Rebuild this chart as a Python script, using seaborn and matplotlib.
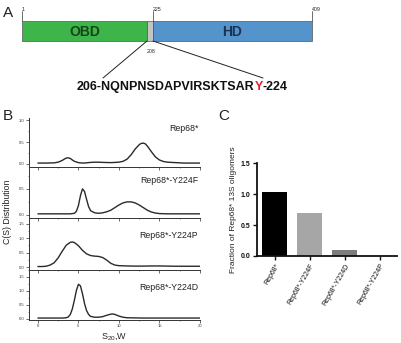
import numpy as np
import pandas as pd
import matplotlib
matplotlib.use("Agg")
import matplotlib.pyplot as plt
import seaborn as sns
from matplotlib.patches import Rectangle
from matplotlib.ticker import MultipleLocator

# ---------------- Panel A data ----------------
domain_names = ["OBD", "", "HD"]
domain_start = [1, 208, 225]
domain_end = [208, 225, 409]
domain_colors = ["#3db54a", "#c4c4c4", "#5593cc"]
domain_text_colors = ["#17441a", "#000000", "#1b3352"]
residue_marks_top = [1, 225, 409]
residue_marks_bottom = [208]
seq_prefix = "206-NQNPNSDAPVIRSKTSAR"
seq_mut = "Y"
seq_suffix = "-224"

# ---------------- Panel B data (c(s) distributions) ----------------
s_rep68 = [0, 1, 2, 2.5, 3, 3.25, 3.5, 3.75, 4, 4.25, 4.5, 5, 5.5, 6, 6.5, 7, 7.5, 8, 9,
           10, 10.5, 11, 11.5, 12, 12.5, 12.75, 13, 13.25, 13.5, 14, 14.5, 15, 15.5, 16,
           17, 18, 20]
c_rep68 = [0.02, 0.02, 0.025, 0.04, 0.08, 0.11, 0.135, 0.14, 0.125, 0.09, 0.06, 0.03,
           0.02, 0.025, 0.035, 0.04, 0.04, 0.035, 0.03, 0.04, 0.06, 0.11, 0.21, 0.34,
           0.44, 0.47, 0.475, 0.46, 0.41, 0.28, 0.16, 0.09, 0.055, 0.04, 0.03, 0.02, 0.02]

s_y224f = [0, 1, 2, 3, 4, 4.5, 4.75, 5, 5.25, 5.5, 5.75, 6, 6.25, 6.5, 7, 7.5, 8, 8.5, 9,
           9.5, 10, 10.5, 11, 11.5, 12, 12.5, 13, 13.5, 14, 14.5, 15, 16, 18, 20]
c_y224f = [0.02, 0.02, 0.02, 0.02, 0.02, 0.03, 0.07, 0.18, 0.37, 0.5, 0.45, 0.3, 0.16,
           0.08, 0.04, 0.03, 0.04, 0.06, 0.09, 0.14, 0.19, 0.23, 0.25, 0.25, 0.23, 0.19,
           0.14, 0.09, 0.055, 0.035, 0.025, 0.02, 0.02, 0.02]

s_y224p = [0, 0.5, 1, 1.5, 2, 2.5, 3, 3.5, 4, 4.25, 4.5, 5, 5.5, 6, 6.5, 7, 7.5, 8, 8.5,
           9, 9.5, 10, 11, 12, 13, 14, 15, 16, 17, 18, 19, 20]
c_y224p = [0.02, 0.02, 0.03, 0.07, 0.15, 0.32, 0.55, 0.76, 0.86, 0.87, 0.85, 0.74, 0.58,
           0.46, 0.40, 0.38, 0.37, 0.33, 0.24, 0.13, 0.07, 0.05, 0.04, 0.035, 0.035, 0.04,
           0.04, 0.035, 0.03, 0.03, 0.03, 0.03]

s_y224d = [0, 1, 2, 3, 3.5, 3.75, 4, 4.25, 4.5, 4.75, 5, 5.25, 5.5, 5.75, 6, 6.25, 6.5,
           7, 7.5, 8, 8.5, 9, 9.25, 9.5, 10, 10.5, 11, 12, 13, 15, 17, 20]
c_y224d = [0.03, 0.03, 0.03, 0.03, 0.04, 0.07, 0.16, 0.36, 0.67, 1.02, 1.24, 1.18, 0.9,
           0.55, 0.3, 0.16, 0.09, 0.06, 0.06, 0.08, 0.13, 0.17, 0.175, 0.16, 0.1, 0.06,
           0.04, 0.035, 0.03, 0.03, 0.03, 0.03]

b_labels = ["Rep68*", "Rep68*-Y224F", "Rep68*-Y224P", "Rep68*-Y224D"]
b_yticks = [[0.0, 0.5, 1.0], [0.0, 0.5], [0.0, 0.5, 1.0, 1.5], [0.0, 0.5, 1.0, 1.5]]
b_ylims = [(-0.07, 1.05), (-0.06, 0.92), (-0.1, 1.7), (-0.04, 1.75)]

# ---------------- Panel C data ----------------
c_categories = ["Rep68*", "Rep68*-Y224F", "Rep68*-Y224D", "Rep68*-Y224P"]
c_values = [1.04, 0.69, 0.10, 0.005]
c_colors = ["#000000", "#a6a6a6", "#7d7d7d", "#555555"]

# ---------------- Figure ----------------
sns.set_style("white")
plt.rcParams["font.family"] = ["Liberation Sans", "DejaVu Sans"]
plt.rcParams["mathtext.default"] = "regular"

W, H = 401, 343
fig = plt.figure(figsize=(W / 100, H / 100), dpi=100)

# Panel A on a pixel-coordinate overlay
axA = fig.add_axes([0, 0, 1, 1])
axA.set_xlim(0, W)
axA.set_ylim(H, 0)
axA.axis("off")
axA.patch.set_alpha(0)

res_anchor = [1, 208, 225, 409]
px_anchor = [22, 147, 153, 312]
def rx(r):
    return float(np.interp(r, res_anchor, px_anchor))

bar_top, bar_bot = 21, 41
for name, s, e, col, tcol in zip(domain_names, domain_start, domain_end,
                                  domain_colors, domain_text_colors):
    x0, x1 = rx(s), rx(e)
    axA.add_patch(Rectangle((x0, bar_top), x1 - x0, bar_bot - bar_top,
                            facecolor=col, edgecolor="#555555", linewidth=0.5))
    if name:
        axA.text((x0 + x1) / 2, (bar_top + bar_bot) / 2 + 0.5, name, ha="center",
                 va="center", fontsize=10, fontweight="bold", color=tcol)

for r in residue_marks_top:
    x = rx(r)
    axA.plot([x, x], [11, bar_top], color="#333333", lw=0.5)
    axA.text(x - 0.5, 9.5, str(r), ha="left", va="center", fontsize=3.8)
for r in residue_marks_bottom:
    axA.text(rx(r), 51.5, str(r), ha="left", va="center", fontsize=3.8)

axA.plot([rx(208), 103], [bar_bot, 78], color="#222222", lw=0.7)
axA.plot([rx(225), 263], [bar_bot, 78], color="#222222", lw=0.7)

seq_fs = 9.0
t1 = axA.text(77, 87, seq_prefix, ha="left", va="center", fontsize=seq_fs,
              fontweight="bold", color="#111111")
t2 = axA.annotate(seq_mut, xy=(1, 0), xycoords=t1, ha="left", va="bottom",
                  fontsize=seq_fs, fontweight="bold", color="#e8202a")
axA.annotate(seq_suffix, xy=(1, 0), xycoords=t2, ha="left", va="bottom",
             fontsize=seq_fs, fontweight="bold", color="#111111")

for lbl, x, y in [("A", 3, 13), ("B", 3, 116), ("C", 218, 116)]:
    axA.text(x, y, lbl, ha="left", va="center", fontsize=11, color="#222222")

# Panel B
def fx(px):
    return px / W
def fy(py):
    return 1 - py / H

b_bounds = [118, 167, 218, 270, 320]
b_label_y = [0.78, 0.73, 0.67, 0.64]
curves = [(s_rep68, c_rep68), (s_y224f, c_y224f), (s_y224p, c_y224p), (s_y224d, c_y224d)]
for i, ((sx, cy), lab) in enumerate(zip(curves, b_labels)):
    top, bot = b_bounds[i], b_bounds[i + 1]
    ax = fig.add_axes([fx(29), fy(bot), fx(200) - fx(29), (bot - top) / H])
    df = pd.DataFrame({"S": sx, "C": cy})
    sns.lineplot(data=df, x="S", y="C", ax=ax, color="#2a2a2a", linewidth=1.0)
    ax.set_xlim(-1.1, 20)
    ax.set_ylim(*b_ylims[i])
    ax.set_yticks(b_yticks[i])
    ax.set_yticklabels([f"{v:.1f}" for v in b_yticks[i]])
    ax.set_xticks([0, 5, 10, 15, 20])
    ax.xaxis.set_minor_locator(MultipleLocator(2.5))
    ax.yaxis.set_minor_locator(MultipleLocator(0.25))
    ax.set_xlabel("")
    ax.set_ylabel("")
    for side in ["top", "right"]:
        ax.spines[side].set_visible(False)
    for side in ["left", "bottom"]:
        ax.spines[side].set_linewidth(0.7)
        ax.spines[side].set_color("#333333")
    ax.tick_params(axis="both", which="major", direction="out", length=2, width=0.5,
                   labelsize=3, pad=1, colors="#333333", bottom=True, left=True)
    ax.tick_params(axis="both", which="minor", direction="out", length=1, width=0.4,
                   colors="#333333", bottom=True, left=True)
    if i < 3:
        ax.set_xticklabels([])
    ax.patch.set_alpha(0)
    ax.text(0.99, b_label_y[i], lab, transform=ax.transAxes, ha="right",
            va="center", fontsize=6.3, color="#222222")
    if i == 3:
        ax.set_xlabel(r"S$_{20}$,W", fontsize=6.5, labelpad=2)

fig.text(fx(8), fy(212), "C(S) Distribution", rotation=90, ha="center", va="center",
         fontsize=6.3, color="#222222")

# Panel C
axC = fig.add_axes([fx(257), fy(256), fx(397) - fx(257), (256 - 163) / H])
dfc = pd.DataFrame({"cat": c_categories, "val": c_values})
sns.barplot(data=dfc, x="cat", y="val", hue="cat", palette=c_colors, ax=axC,
            width=0.7, legend=False, saturation=1, edgecolor="none")
axC.set_xlim(-0.5, 3.5)
axC.set_ylim(0, 1.5)
axC.set_yticks([0.0, 0.5, 1.0, 1.5])
axC.set_yticklabels(["0.0", "0.5", "1.0", "1.5"], fontweight="bold")
for side in ["top", "right"]:
    axC.spines[side].set_visible(False)
for side in ["left", "bottom"]:
    axC.spines[side].set_linewidth(1.3)
    axC.spines[side].set_color("#111111")
axC.tick_params(axis="both", direction="out", length=3, width=1.0, labelsize=5,
                pad=1.5, colors="#111111", bottom=True, left=True)
axC.set_xticks(range(len(c_categories)))
axC.set_xticklabels(c_categories, rotation=60, ha="right", rotation_mode="anchor",
                    fontsize=5)
axC.set_xlabel("")
axC.set_ylabel("Fraction of Rep68* 13S oligomers", fontsize=6, labelpad=3,
               color="#222222")
axC.patch.set_alpha(0)

fig.savefig("out.png", dpi=100)
